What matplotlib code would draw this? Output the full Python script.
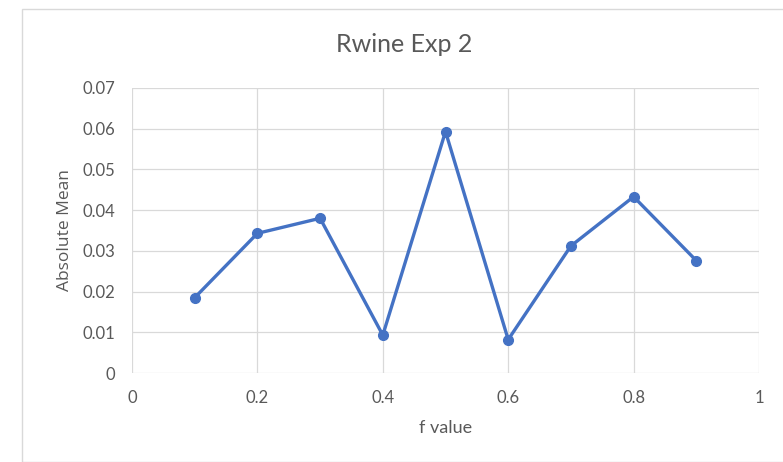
import matplotlib
matplotlib.use("Agg")
import matplotlib.pyplot as plt
from matplotlib.patches import Rectangle

f_values = [0.1, 0.2, 0.3, 0.4, 0.5, 0.6, 0.7, 0.8, 0.9]
abs_mean = [0.0185, 0.0343, 0.0380, 0.0093, 0.0593, 0.0082, 0.0312, 0.0433, 0.0276]

x_ticks = [0, 0.2, 0.4, 0.6, 0.8, 1]
x_tick_labels = ["0", "0.2", "0.4", "0.6", "0.8", "1"]
y_ticks = [0, 0.01, 0.02, 0.03, 0.04, 0.05, 0.06, 0.07]
y_tick_labels = ["0", "0.01", "0.02", "0.03", "0.04", "0.05", "0.06", "0.07"]

W, H = 783, 462
fig = plt.figure(figsize=(W / 100, H / 100), dpi=100)
fig.patch.set_facecolor("white")

# chart frame
fig.patches.append(Rectangle((22 / W, 0), 1 - 22 / W + 0.01, 1 - 9 / H, transform=fig.transFigure,
                             fill=False, edgecolor="#d9d9d9", linewidth=1.0))

ax = fig.add_axes([132 / W, 1 - 373 / H, (759 - 132) / W, (373 - 88) / H])
ax.plot(f_values, abs_mean, color="#4472C4", linewidth=2.4, marker="o", markersize=7,
        markerfacecolor="#4472C4", markeredgecolor="#4472C4", zorder=3)

ax.set_xlim(0, 1)
ax.set_ylim(0, 0.07)
ax.set_xticks(x_ticks)
ax.set_xticklabels(x_tick_labels)
ax.set_yticks(y_ticks)
ax.set_yticklabels(y_tick_labels)
ax.grid(True, color="#d9d9d9", linewidth=0.9)
ax.set_axisbelow(True)
for s in ax.spines.values():
    s.set_visible(False)
ax.tick_params(axis="x", length=0, pad=12, labelsize=12, labelcolor="#595959")
ax.tick_params(axis="y", length=0, pad=12, labelsize=12, labelcolor="#595959")
for lab in ax.get_xticklabels() + ax.get_yticklabels():
    lab.set_family("Lato")

ax.set_xlabel("f value", fontsize=13, color="#595959", family="Lato", labelpad=10)
ax.set_ylabel("Absolute Mean", fontsize=12.5, color="#595959", family="Open Sans", labelpad=7)

fig.text(404 / W, 1 - 45 / H, "Rwine Exp 2", ha="center", va="center",
         fontsize=18, color="#595959", family="Lato")

fig.savefig("out.png", dpi=100)
